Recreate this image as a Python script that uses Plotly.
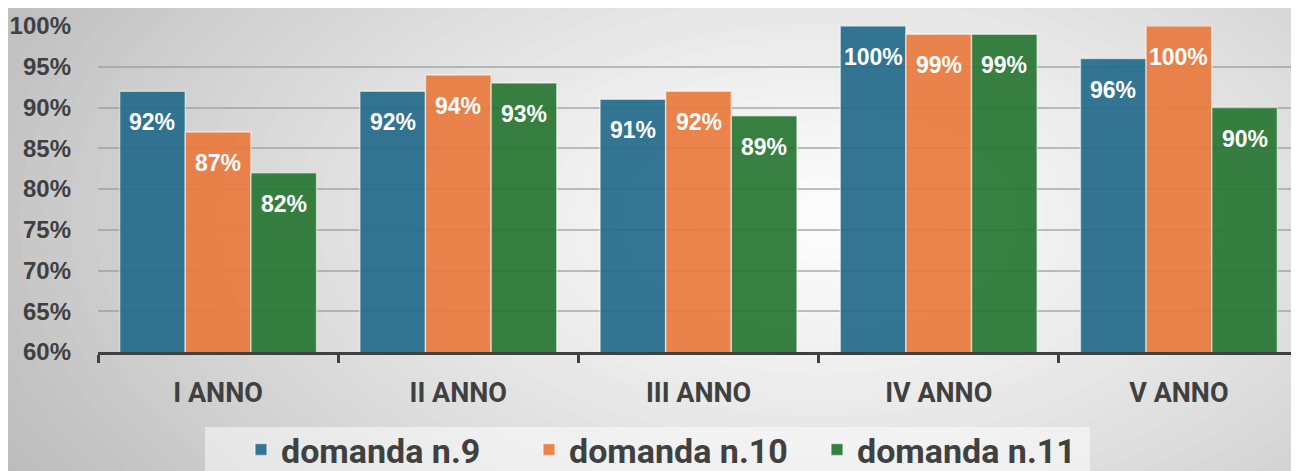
import plotly.graph_objects as go

# Data
categories = ["I ANNO", "II ANNO", "III ANNO", "IV ANNO", "V ANNO"]
domanda_9 = [0.92, 0.92, 0.91, 1.00, 0.96]
domanda_10 = [0.87, 0.94, 0.92, 0.99, 1.00]
domanda_11 = [0.82, 0.93, 0.89, 0.99, 0.90]
series_names = ["domanda n.9", "domanda n.10", "domanda n.11"]

COLOR_BLUE = "rgba(36,106,138,0.93)"
COLOR_ORANGE = "rgba(234,122,62,0.93)"
COLOR_GREEN = "rgba(40,118,52,0.93)"
TEXT_DARK = "#404040"

# the page puts the figure 8px in from the top-left corner
OFF = 8
W, H = 1299 - OFF, 471 - OFF
M_L, M_R, M_T, M_B = 98 - OFF, 0, 26 - OFF, 119
BARGAP = 0.18
PW, PH = W - M_L - M_R, H - M_T - M_B


def px_to_paper(px, py):
    # screenshot pixel -> paper coordinates
    return (px - OFF - M_L) / PW, (H - M_B - (py - OFF)) / PH


fig = go.Figure()
series = [domanda_9, domanda_10, domanda_11]
colors = [COLOR_BLUE, COLOR_ORANGE, COLOR_GREEN]

for name, vals, col in zip(series_names, series, colors):
    fig.add_trace(go.Bar(
        x=categories,
        y=vals,
        name=name,
        marker=dict(color=col, line=dict(color="rgba(255,255,255,0.55)", width=1.5)),
        hoverinfo="x+y+name",
    ))

# value labels, sitting a bit below the top of each bar
cat_w = PW / len(categories)
bar_px = cat_w * (1 - BARGAP) / len(series)
annotations = []
for i, vals in enumerate(series):
    for c, v in zip(categories, vals):
        annotations.append(dict(
            x=c, y=v, xref="x", yref="y",
            text=f"{v:.0%}", showarrow=False,
            xshift=(i - 1) * bar_px, yshift=-16, yanchor="top",
            font=dict(family="Liberation Sans, Arial, sans-serif", size=23, color="white", weight="bold"),
        ))

# soft radial background shading
shapes = []
cx, cy = px_to_paper(820, 220)
rx, ry = 1000 / PW, 560 / PH
steps = 40
for k in range(steps, 0, -1):
    r = k / steps
    g = int(round(252 - 70 * r ** 1.3))
    shapes.append(dict(
        type="circle", xref="paper", yref="paper", layer="below",
        x0=cx - rx * r, x1=cx + rx * r, y0=cy - ry * r, y1=cy + ry * r,
        fillcolor=f"rgb({g},{g},{g})", line=dict(width=0),
    ))

# pale box behind the legend
bx0, by0 = px_to_paper(205, 427)
bx1, by1 = px_to_paper(1090, 480)
shapes.append(dict(
    type="rect", xref="paper", yref="paper", layer="below",
    x0=bx0, x1=bx1, y0=by1, y1=by0,
    fillcolor="rgba(255,255,255,0.5)", line=dict(width=0),
))

lx, ly = px_to_paper(241, 421)

fig.update_layout(
    width=W, height=H,
    barmode="group",
    bargap=BARGAP,
    bargroupgap=0,
    paper_bgcolor="rgb(182,182,182)",
    plot_bgcolor="rgba(0,0,0,0)",
    margin=dict(l=M_L, r=M_R, t=M_T, b=M_B, autoexpand=False),
    shapes=shapes,
    annotations=annotations,
    showlegend=True,
    legend=dict(
        orientation="h",
        x=lx, xanchor="left",
        y=ly, yanchor="top",
        bgcolor="rgba(0,0,0,0)",
        font=dict(family="Roboto, sans-serif", size=34, color=TEXT_DARK, weight="bold"),
        itemwidth=30,
        entrywidth=243, entrywidthmode="pixels",
    ),
    xaxis=dict(
        showline=True, linecolor=TEXT_DARK, linewidth=3,
        ticks="outside", tickson="boundaries", ticklen=8, tickwidth=3, tickcolor=TEXT_DARK,
        tickfont=dict(family="Roboto, sans-serif", size=27, color=TEXT_DARK, weight="bold"),
        ticklabelstandoff=15,
        showgrid=False,
    ),
    yaxis=dict(
        range=[0.6, 1.0], dtick=0.05, tickformat=".0%",
        showgrid=True, gridcolor="rgba(150,150,150,0.6)", gridwidth=1.5,
        zeroline=False, showline=False,
        tickfont=dict(family="Liberation Sans, Arial, sans-serif", size=24, color=TEXT_DARK, weight="bold"),
        ticklabelstandoff=26,
    ),
)

fig.write_html("out.html")
